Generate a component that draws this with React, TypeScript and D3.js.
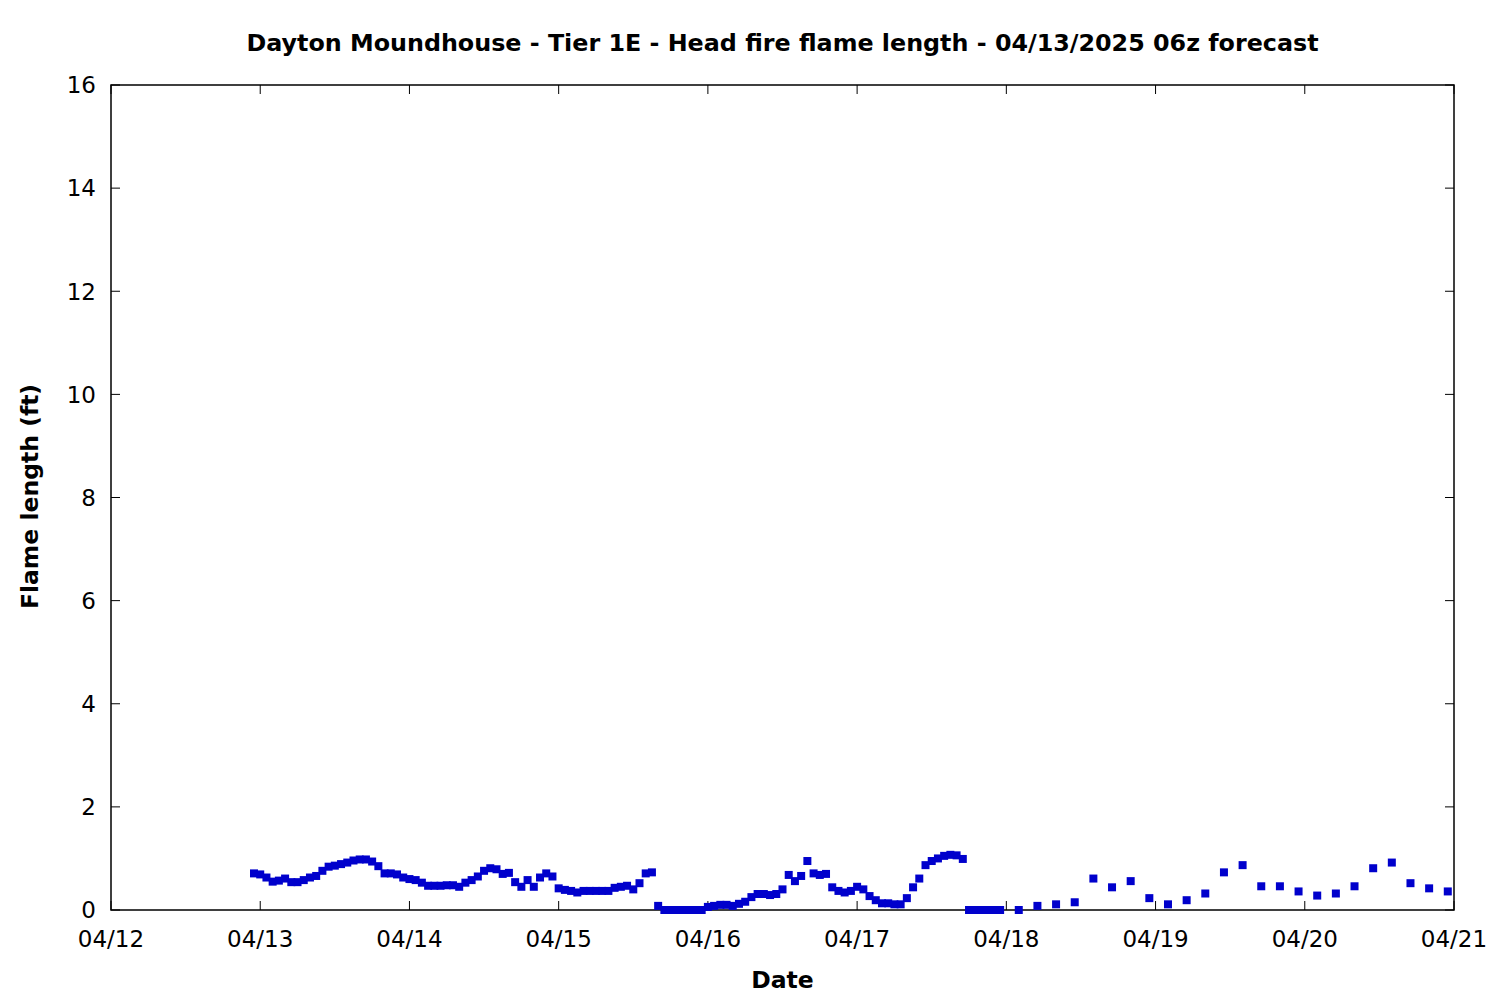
import React from "react";
import * as d3 from "d3";

const TITLE = "Dayton Moundhouse - Tier 1E - Head fire flame length - 04/13/2025 06z forecast";
const X_LABEL = "Date";
const Y_LABEL = "Flame length (ft)";

// Hourly values starting 04/12 23z
const HOURLY_START = Date.UTC(2025, 3, 12, 23);
const hourlyValues = [
  0.71, 0.69, 0.63, 0.55, 0.57, 0.61, 0.54, 0.54, 0.58, 0.63,
  0.66, 0.76, 0.84, 0.86, 0.89, 0.92, 0.96, 0.98, 0.98, 0.94,
  0.85, 0.71, 0.71, 0.69, 0.63, 0.60, 0.58, 0.53, 0.47, 0.47,
  0.47, 0.48, 0.48, 0.45, 0.53, 0.58, 0.65, 0.76, 0.81, 0.79,
  0.70, 0.72, 0.54, 0.45, 0.58, 0.45, 0.63, 0.71, 0.65, 0.42,
  0.39, 0.37, 0.34, 0.37, 0.37, 0.37, 0.37, 0.37, 0.43, 0.45,
  0.47, 0.40, 0.52, 0.71, 0.73, 0.08, 0.0, 0.0, 0.0, 0.0,
  0.0, 0.0, 0.0, 0.06, 0.08, 0.10, 0.10, 0.08, 0.12, 0.16,
  0.25, 0.31, 0.31, 0.29, 0.31, 0.40, 0.68, 0.56, 0.66, 0.95,
  0.71, 0.68, 0.70, 0.44, 0.37, 0.34, 0.37, 0.45, 0.40, 0.27,
  0.19, 0.13, 0.13, 0.11, 0.11, 0.23, 0.44, 0.61, 0.87, 0.95,
  1.00, 1.05, 1.07, 1.06, 0.99, 0.0, 0.0, 0.0, 0.0, 0.0,
  0.0,
];

// 3-hourly values starting 04/18 02z
const THREE_HOURLY_START = Date.UTC(2025, 3, 18, 2);
const threeHourlyValues = [
  0.0, 0.08, 0.11, 0.15, 0.61, 0.44, 0.56, 0.23, 0.11, 0.19,
  0.32, 0.73, 0.87, 0.46, 0.46, 0.36, 0.28, 0.32, 0.46, 0.81,
  0.92, 0.52, 0.42, 0.36,
];

const X_TICKS = [
  "2025-04-12", "2025-04-13", "2025-04-14", "2025-04-15", "2025-04-16",
  "2025-04-17", "2025-04-18", "2025-04-19", "2025-04-20", "2025-04-21",
];
const Y_TICKS = [0, 2, 4, 6, 8, 10, 12, 14, 16];

const HOUR = 3600 * 1000;

export default function App() {
  const W = 1500, H = 1000;
  const left = 111, right = 1454, top = 85, bottom = 910;
  const x = d3
    .scaleUtc()
    .domain([new Date(X_TICKS[0] + "T00:00:00Z"), new Date(X_TICKS[X_TICKS.length - 1] + "T00:00:00Z")])
    .range([left, right]);
  const y = d3.scaleLinear().domain([0, 16]).range([bottom, top]);
  const fmt = d3.utcFormat("%m/%d");
  const tickLen = 9;
  const font = "'DejaVu Sans', sans-serif";
  const fs = 23;
  const color = "#0000cc";
  const m = 8;

  const points = [
    ...hourlyValues.map((v, i) => ({ t: new Date(HOURLY_START + i * HOUR), v })),
    ...threeHourlyValues.map((v, i) => ({ t: new Date(THREE_HOURLY_START + i * 3 * HOUR), v })),
  ];

  return (
    <svg
      width={W}
      height={H}
      style={{ position: "absolute", left: 0, top: 0, background: "#fff" }}
      fontFamily={font}
    >
      <rect x={0} y={0} width={W} height={H} fill="#fff" />
      {Y_TICKS.map((t) => (
        <g key={"y" + t}>
          <line x1={left} x2={left + tickLen} y1={y(t)} y2={y(t)} stroke="#000" strokeWidth={1} />
          <line x1={right} x2={right - tickLen} y1={y(t)} y2={y(t)} stroke="#000" strokeWidth={1} />
          <text x={left - 15} y={y(t)} dy="0.36em" textAnchor="end" fontSize={fs}>
            {t}
          </text>
        </g>
      ))}
      {X_TICKS.map((s) => {
        const d = new Date(s + "T00:00:00Z");
        const px = x(d);
        return (
          <g key={s}>
            <line x1={px} x2={px} y1={bottom} y2={bottom - tickLen} stroke="#000" strokeWidth={1} />
            <line x1={px} x2={px} y1={top} y2={top + tickLen} stroke="#000" strokeWidth={1} />
            <text x={px} y={947} textAnchor="middle" fontSize={fs}>
              {fmt(d)}
            </text>
          </g>
        );
      })}
      <rect x={left} y={top} width={right - left} height={bottom - top} fill="none" stroke="#000" strokeWidth={1.5} />
      {points.map((p, i) => (
        <rect key={i} x={x(p.t) - m / 2} y={y(p.v) - m / 2} width={m} height={m} fill={color} />
      ))}
      <text x={(left + right) / 2} y={51} textAnchor="middle" fontSize={23.8} fontWeight="bold">
        {TITLE}
      </text>
      <text x={(left + right) / 2} y={988} textAnchor="middle" fontSize={23.5} fontWeight="bold">
        {X_LABEL}
      </text>
      <text
        transform={`translate(38, ${(top + bottom) / 2 - 1}) rotate(-90)`}
        textAnchor="middle"
        fontSize={23.5}
        fontWeight="bold"
      >
        {Y_LABEL}
      </text>
    </svg>
  );
}
